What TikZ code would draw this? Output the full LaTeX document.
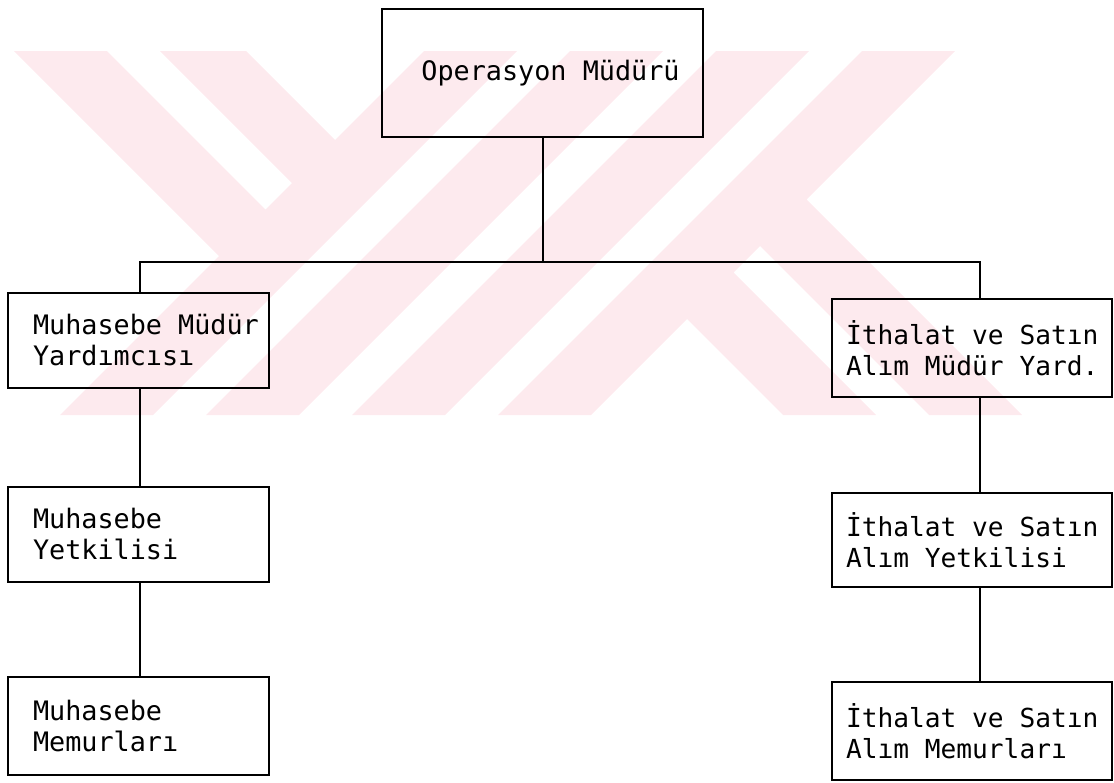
\documentclass[tikz,border=0pt]{standalone}
\usepackage{fontspec}
\newfontfamily\chartfont[WordSpace={1,0,0}]{DejaVu Sans Mono}
\definecolor{markpink}{RGB}{253,234,238}
% keep the full monospaced word space inside aligned node text
\newcommand{\fullspaces}{\spaceskip=0pt\xspaceskip=0pt\relax}
\begin{document}
\begin{tikzpicture}[x=0.5pt,y=-0.5pt,
  post/.style={draw=black, line width=1.3pt, rectangle, inner ysep=0pt,
    font=\chartfont\fontsize{13.4pt}{15.5pt}\selectfont},
  leftpost/.style={post, text width=105.5pt, inner xsep=12.5pt, align=left},
  rightpost/.style={post, text width=126pt, inner xsep=7pt, align=left,
    font=\chartfont\fontsize{13.1pt}{15.3pt}\selectfont},
  wire/.style={draw=black, line width=1pt}]
\useasboundingbox (0,0) rectangle (1114,782);

% striped emblem in the background
\fill[markpink]
  (424,51) -- (517,51) -- (153,415) -- (60,415) -- cycle
  (570,51) -- (663,51) -- (299,415) -- (206,415) -- cycle
  (716,51) -- (809,51) -- (445,415) -- (352,415) -- cycle
  (862,51) -- (955,51) -- (591,415) -- (498,415) -- cycle
  (14,51) -- (107,51) -- (265.5,209.5) -- (219,256) -- cycle
  (160,51) -- (246,51) -- (335,140) -- (292,183) -- cycle
  (760,246) -- (806.5,199.5) -- (1022,415) -- (929,415) -- cycle
  (687,319) -- (733.5,272.5) -- (876,415) -- (783,415) -- cycle;

% posts
\node[post, minimum width=160.5pt, minimum height=64pt, align=center] (top) at (542.5,73) {\hspace*{8pt}Operasyon Müdürü};

\node[leftpost, minimum height=47.5pt] (lm) at (138.5,340.5) {\fullspaces\mbox{Muhasebe Müdür}\\Yardımcısı};
\node[leftpost, minimum height=47.5pt] (ly) at (138.5,534.5) {\fullspaces Muhasebe\\Yetkilisi};
\node[leftpost, minimum height=49pt] (lmem) at (138.5,726) {\fullspaces Muhasebe\\Memurları};

\node[rightpost, minimum height=49pt] (rm) at (972,348) {\fullspaces\mbox{İthalat ve Satın}\\\mbox{Alım Müdür Yard.}};
\node[rightpost, minimum height=47pt] (ry) at (972,540) {\fullspaces\mbox{İthalat ve Satın}\\\mbox{Alım Yetkilisi}};
\node[rightpost, minimum height=49pt] (rmem) at (972,731) {\fullspaces\mbox{İthalat ve Satın}\\\mbox{Alım Memurları}};

% reporting lines
\coordinate (busL) at (140,262);
\coordinate (busR) at (980,262);
\draw[wire] (top.south) -- (top.south |- busL);
\draw[wire] (lm.north -| busL) -- (busL) -- (busR) -- (rm.north -| busR);
\draw[wire] (lm.south -| busL) -- (ly.north -| busL);
\draw[wire] (ly.south -| busL) -- (lmem.north -| busL);
\draw[wire] (rm.south -| busR) -- (ry.north -| busR);
\draw[wire] (ry.south -| busR) -- (rmem.north -| busR);
\end{tikzpicture}
\end{document}
